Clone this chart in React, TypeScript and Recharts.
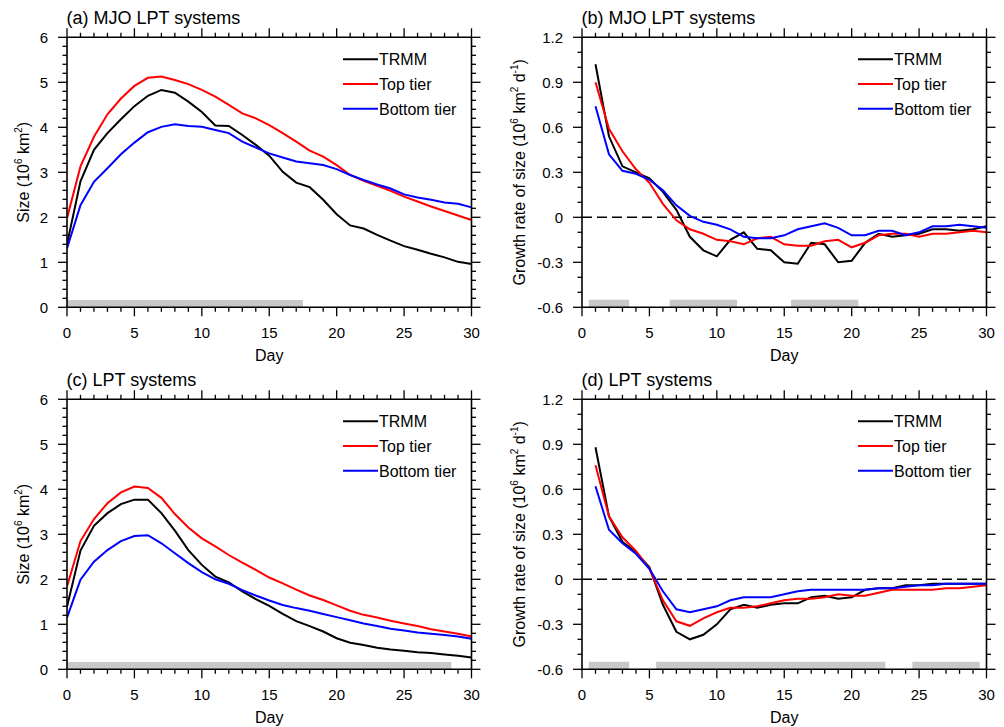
import React from 'react';
import { LineChart, Line, XAxis, YAxis, ReferenceArea, ReferenceLine } from 'recharts';

const FONT = '"Liberation Sans", Arial, Helvetica, sans-serif';

const daysFrom0 = [0, 1, 2, 3, 4, 5, 6, 7, 8, 9, 10, 11, 12, 13, 14, 15, 16, 17, 18, 19, 20, 21, 22, 23, 24, 25, 26, 27, 28, 29, 30];
const daysFrom1 = [1, 2, 3, 4, 5, 6, 7, 8, 9, 10, 11, 12, 13, 14, 15, 16, 17, 18, 19, 20, 21, 22, 23, 24, 25, 26, 27, 28, 29, 30];

const xMajor = [0, 5, 10, 15, 20, 25, 30];
const xMinor = [0, 1, 2, 3, 4, 5, 6, 7, 8, 9, 10, 11, 12, 13, 14, 15, 16, 17, 18, 19, 20, 21, 22, 23, 24, 25, 26, 27, 28, 29, 30];
const xLabels = ['0', '5', '10', '15', '20', '25', '30'];

const sizeMajor = [0, 1, 2, 3, 4, 5, 6];
const sizeMinor = [0, 0.2, 0.4, 0.6, 0.8, 1, 1.2, 1.4, 1.6, 1.8, 2, 2.2, 2.4, 2.6, 2.8, 3, 3.2, 3.4, 3.6, 3.8, 4, 4.2, 4.4, 4.6, 4.8, 5, 5.2, 5.4, 5.6, 5.8, 6];
const sizeLabels = ['0', '1', '2', '3', '4', '5', '6'];

const rateMajor = [-0.6, -0.3, 0, 0.3, 0.6, 0.9, 1.2];
const rateMinor = [-0.6, -0.5, -0.4, -0.3, -0.2, -0.1, 0, 0.1, 0.2, 0.3, 0.4, 0.5, 0.6, 0.7, 0.8, 0.9, 1, 1.1, 1.2];
const rateLabels = ['-0.6', '-0.3', '0', '0.3', '0.6', '0.9', '1.2'];

const seriesNames = ['TRMM', 'Top tier', 'Bottom tier'];

// (a) MJO LPT systems, size
const mjoSizeTrmm = [1.4, 2.8, 3.5, 3.87, 4.18, 4.47, 4.7, 4.83, 4.77, 4.57, 4.34, 4.04, 4.03, 3.83, 3.61, 3.37, 3.01, 2.77, 2.67, 2.39, 2.07, 1.82, 1.75, 1.61, 1.48, 1.36, 1.28, 1.19, 1.11, 1.01, 0.96];
const mjoSizeTop = [1.98, 3.13, 3.79, 4.29, 4.64, 4.92, 5.1, 5.13, 5.05, 4.96, 4.83, 4.68, 4.5, 4.31, 4.2, 4.05, 3.87, 3.68, 3.48, 3.35, 3.16, 2.94, 2.81, 2.7, 2.59, 2.46, 2.35, 2.24, 2.14, 2.04, 1.94];
const mjoSizeBottom = [1.31, 2.27, 2.79, 3.09, 3.4, 3.66, 3.89, 4.01, 4.07, 4.03, 4.01, 3.94, 3.87, 3.68, 3.55, 3.42, 3.33, 3.24, 3.2, 3.16, 3.07, 2.94, 2.83, 2.73, 2.64, 2.51, 2.44, 2.39, 2.33, 2.3, 2.22];

// (b) MJO LPT systems, growth rate
const mjoRateTrmm = [1.02, 0.54, 0.34, 0.3, 0.26, 0.17, 0.05, -0.13, -0.22, -0.26, -0.15, -0.1, -0.21, -0.22, -0.3, -0.31, -0.17, -0.18, -0.3, -0.29, -0.17, -0.11, -0.13, -0.12, -0.11, -0.08, -0.08, -0.09, -0.08, -0.06];
const mjoRateTop = [0.9, 0.59, 0.44, 0.32, 0.23, 0.09, -0.02, -0.08, -0.11, -0.15, -0.16, -0.18, -0.14, -0.13, -0.18, -0.19, -0.19, -0.16, -0.15, -0.2, -0.17, -0.12, -0.11, -0.11, -0.13, -0.11, -0.11, -0.1, -0.09, -0.1];
const mjoRateBottom = [0.74, 0.42, 0.31, 0.29, 0.25, 0.18, 0.08, 0.01, -0.03, -0.05, -0.08, -0.13, -0.14, -0.14, -0.12, -0.08, -0.06, -0.04, -0.07, -0.12, -0.12, -0.09, -0.09, -0.12, -0.1, -0.06, -0.06, -0.05, -0.06, -0.07];

// (c) LPT systems, size
const lptSizeTrmm = [1.39, 2.64, 3.19, 3.47, 3.67, 3.77, 3.77, 3.47, 3.08, 2.65, 2.32, 2.06, 1.93, 1.73, 1.56, 1.41, 1.23, 1.07, 0.96, 0.84, 0.69, 0.59, 0.54, 0.48, 0.44, 0.41, 0.38, 0.36, 0.33, 0.3, 0.26];
const lptSizeTop = [1.84, 2.85, 3.34, 3.69, 3.93, 4.06, 4.03, 3.81, 3.45, 3.15, 2.91, 2.73, 2.54, 2.37, 2.21, 2.04, 1.91, 1.77, 1.64, 1.54, 1.42, 1.3, 1.21, 1.15, 1.08, 1.02, 0.96, 0.89, 0.84, 0.79, 0.73];
const lptSizeBottom = [1.15, 1.99, 2.39, 2.65, 2.85, 2.96, 2.98, 2.8, 2.58, 2.36, 2.16, 2.0, 1.9, 1.76, 1.64, 1.53, 1.43, 1.36, 1.3, 1.23, 1.16, 1.09, 1.02, 0.96, 0.9, 0.86, 0.82, 0.79, 0.76, 0.73, 0.68];

// (d) LPT systems, growth rate
const lptRateTrmm = [0.88, 0.42, 0.25, 0.18, 0.08, -0.17, -0.35, -0.4, -0.37, -0.3, -0.2, -0.17, -0.19, -0.17, -0.16, -0.16, -0.12, -0.11, -0.13, -0.12, -0.07, -0.06, -0.06, -0.04, -0.04, -0.03, -0.03, -0.03, -0.03, -0.03];
const lptRateTop = [0.76, 0.42, 0.28, 0.19, 0.07, -0.14, -0.28, -0.31, -0.26, -0.22, -0.19, -0.19, -0.18, -0.16, -0.14, -0.13, -0.13, -0.12, -0.1, -0.11, -0.11, -0.09, -0.07, -0.07, -0.07, -0.07, -0.06, -0.06, -0.05, -0.04];
const lptRateBottom = [0.62, 0.33, 0.24, 0.17, 0.07, -0.08, -0.2, -0.22, -0.2, -0.18, -0.14, -0.12, -0.12, -0.12, -0.1, -0.08, -0.07, -0.07, -0.07, -0.07, -0.07, -0.06, -0.06, -0.05, -0.04, -0.04, -0.03, -0.03, -0.03, -0.03];

// grey bars along the bottom (day ranges)
const mjoSizeShade = [[0, 17.5]];
const mjoRateShade = [[0.5, 3.5], [6.5, 11.5], [15.5, 20.5]];
const lptSizeShade = [[0, 28.5]];
const lptRateShade = [[0.5, 3.5], [5.5, 22.5], [24.5, 29.5]];

const colors = ['#000000', '#ff0000', '#0000ff'];

type Box = { x0: number; x1: number; y0: number; y1: number };

function makeTick(side: string, majors: number[], labels: string[] | null) {
  return (p: any) => {
    const { x, y, payload } = p;
    const v = payload.value;
    const mi = majors.findIndex((m) => Math.abs(m - v) < 1e-6);
    const len = mi >= 0 ? 9 : 4.5;
    let line;
    if (side === 'bottom') line = <line x1={x} y1={y} x2={x} y2={y + len} />;
    else if (side === 'top') line = <line x1={x} y1={y} x2={x} y2={y - len} />;
    else if (side === 'left') line = <line x1={x} y1={y} x2={x - len} y2={y} />;
    else line = <line x1={x} y1={y} x2={x + len} y2={y} />;
    let label = null;
    if (labels && mi >= 0) {
      if (side === 'bottom')
        label = (
          <text x={x} y={y + 31} textAnchor="middle" fontSize={15} fontFamily={FONT} fill="#000" stroke="none">
            {labels[mi]}
          </text>
        );
      else
        label = (
          <text x={x - 19} y={y + 5.3} textAnchor="end" fontSize={15} fontFamily={FONT} fill="#000" stroke="none">
            {labels[mi]}
          </text>
        );
    }
    return (
      <g stroke="#000" strokeWidth={1.3}>
        {line}
        {label}
      </g>
    );
  };
}

type PanelProps = {
  cell: { L: number; T: number; W: number; H: number };
  box: Box;
  days: number[];
  values: number[][];
  yDomain: [number, number];
  yMajor: number[];
  yMinor: number[];
  yLabels: string[];
  shade: number[][];
  shadeHeight: number;
  zeroLine: boolean;
};

function Panel({ cell, box, days, values, yDomain, yMajor, yMinor, yLabels, shade, shadeHeight, zeroLine }: PanelProps) {
  const data = days.map((d, i) => ({ day: d, s0: values[0][i], s1: values[1][i], s2: values[2][i] }));
  const margin = {
    left: box.x0 - cell.L - 1,
    right: cell.L + cell.W - box.x1 - 1,
    top: box.y0 - cell.T - 1,
    bottom: cell.T + cell.H - box.y1 - 1,
  };
  const axisLine = { stroke: '#000', strokeWidth: 1.6 };
  return (
    <div style={{ position: 'absolute', left: cell.L, top: cell.T }}>
      <LineChart width={cell.W} height={cell.H} data={data} margin={margin}>
        <XAxis dataKey="day" type="number" domain={[0, 30]} ticks={xMinor} interval={0} height={1}
          tickSize={0} tickMargin={0} tickLine={false} axisLine={axisLine} tick={makeTick('bottom', xMajor, xLabels)} allowDataOverflow />
        <XAxis xAxisId="top" orientation="top" dataKey="day" type="number" domain={[0, 30]} ticks={xMinor} interval={0} height={1}
          tickSize={0} tickMargin={0} tickLine={false} axisLine={axisLine} tick={makeTick('top', xMajor, null)} allowDataOverflow />
        <YAxis type="number" domain={yDomain} ticks={yMinor} interval={0} width={1}
          tickSize={0} tickMargin={0} tickLine={false} axisLine={axisLine} tick={makeTick('left', yMajor, yLabels)} allowDataOverflow />
        <YAxis yAxisId="right" orientation="right" type="number" domain={yDomain} ticks={yMinor} interval={0} width={1}
          tickSize={0} tickMargin={0} tickLine={false} axisLine={axisLine} tick={makeTick('right', yMajor, null)} allowDataOverflow />
        {shade.map((s, i) => (
          <ReferenceArea key={i} x1={s[0]} x2={s[1]} y1={yDomain[0]} y2={yDomain[0] + shadeHeight}
            fill="#c8c8c8" fillOpacity={1} stroke="none" />
        ))}
        {zeroLine && <ReferenceLine y={0} stroke="#000" strokeWidth={1.4} strokeDasharray="10 5" />}
        {['s0', 's1', 's2'].map((k, i) => (
          <Line key={k} type="linear" dataKey={k} stroke={colors[i]} strokeWidth={2} dot={false} isAnimationActive={false} />
        ))}
      </LineChart>
    </div>
  );
}

function Texts({ box, title, yTitle, yTitleOffset }: { box: Box; title: string; yTitle: 'size' | 'rate'; yTitleOffset: number }) {
  const cx = box.x0 - yTitleOffset;
  const cy = (box.y0 + box.y1) / 2;
  return (
    <g fontFamily={FONT} fill="#000">
      <text x={box.x0 - 0.5} y={box.y0 - 13} fontSize={18}>{title}</text>
      <text x={(box.x0 + box.x1) / 2} y={box.y1 + 53.5} fontSize={16} textAnchor="middle">Day</text>
      <text x={cx} y={cy} fontSize={16} textAnchor="middle" transform={`rotate(-90 ${cx} ${cy})`}>
        {yTitle === 'size' ? (
          <>
            <tspan>Size (10</tspan>
            <tspan dy={-7} fontSize={10}>6</tspan>
            <tspan dy={7}> km</tspan>
            <tspan dy={-7} fontSize={10}>2</tspan>
            <tspan dy={7}>)</tspan>
          </>
        ) : (
          <>
            <tspan>Growth rate of size (10</tspan>
            <tspan dy={-7} fontSize={10}>6</tspan>
            <tspan dy={7}> km</tspan>
            <tspan dy={-7} fontSize={10}>2</tspan>
            <tspan dy={7}> d</tspan>
            <tspan dy={-7} fontSize={10}>-1</tspan>
            <tspan dy={7}>)</tspan>
          </>
        )}
      </text>
      {seriesNames.map((n, i) => {
        const y = box.y0 + 22 + i * 24.75;
        return (
          <g key={n}>
            <line x1={box.x1 - 128.5} x2={box.x1 - 93.5} y1={y} y2={y} stroke={colors[i]} strokeWidth={2} />
            <text x={box.x1 - 92.5} y={y + 6} fontSize={16}>{n}</text>
          </g>
        );
      })}
    </g>
  );
}

const boxA: Box = { x0: 67, x1: 471.5, y0: 37.3, y1: 307.3 };
const boxB: Box = { x0: 582, x1: 986.5, y0: 37.3, y1: 307.3 };
const boxC: Box = { x0: 67, x1: 471.5, y0: 399.3, y1: 669.3 };
const boxD: Box = { x0: 582, x1: 986.5, y0: 399.3, y1: 669.3 };

export default function App() {
  return (
    <div style={{ position: 'absolute', left: 0, top: 0, width: 1004, height: 727, background: '#fff', fontFamily: FONT }}>
      <Panel cell={{ L: 0, T: 0, W: 502, H: 363 }} box={boxA} days={daysFrom0}
        values={[mjoSizeTrmm, mjoSizeTop, mjoSizeBottom]} yDomain={[0, 6]}
        yMajor={sizeMajor} yMinor={sizeMinor} yLabels={sizeLabels} shade={mjoSizeShade} shadeHeight={0.16} zeroLine={false} />
      <Panel cell={{ L: 502, T: 0, W: 502, H: 363 }} box={boxB} days={daysFrom1}
        values={[mjoRateTrmm, mjoRateTop, mjoRateBottom]} yDomain={[-0.6, 1.2]}
        yMajor={rateMajor} yMinor={rateMinor} yLabels={rateLabels} shade={mjoRateShade} shadeHeight={0.05} zeroLine />
      <Panel cell={{ L: 0, T: 363, W: 502, H: 364 }} box={boxC} days={daysFrom0}
        values={[lptSizeTrmm, lptSizeTop, lptSizeBottom]} yDomain={[0, 6]}
        yMajor={sizeMajor} yMinor={sizeMinor} yLabels={sizeLabels} shade={lptSizeShade} shadeHeight={0.16} zeroLine={false} />
      <Panel cell={{ L: 502, T: 363, W: 502, H: 364 }} box={boxD} days={daysFrom1}
        values={[lptRateTrmm, lptRateTop, lptRateBottom]} yDomain={[-0.6, 1.2]}
        yMajor={rateMajor} yMinor={rateMinor} yLabels={rateLabels} shade={lptRateShade} shadeHeight={0.05} zeroLine />
      <svg width={1004} height={727} style={{ position: 'absolute', left: 0, top: 0, pointerEvents: 'none' }}>
        <Texts box={boxA} title="(a) MJO LPT systems" yTitle="size" yTitleOffset={38} />
        <Texts box={boxB} title="(b) MJO LPT systems" yTitle="rate" yTitleOffset={57} />
        <Texts box={boxC} title="(c) LPT systems" yTitle="size" yTitleOffset={38} />
        <Texts box={boxD} title="(d) LPT systems" yTitle="rate" yTitleOffset={57} />
      </svg>
    </div>
  );
}
